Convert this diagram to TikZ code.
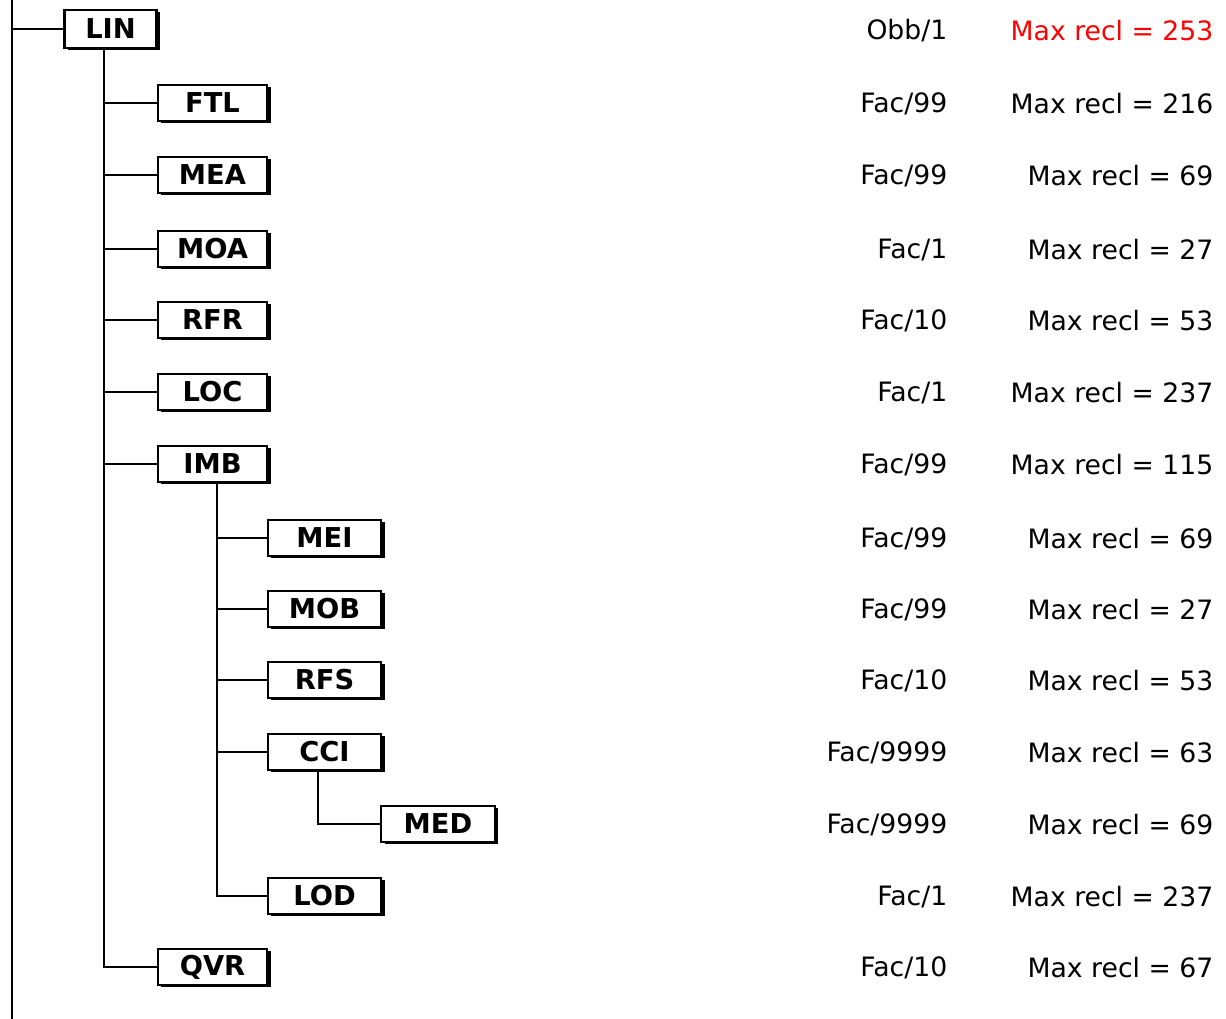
\documentclass[tikz,border=0pt]{standalone}
\usepackage{fontspec}
\setmainfont{DejaVu Sans}
\usetikzlibrary{shadows}

\tikzset{
  recbox/.style={draw, fill=white, line width=1.6pt, font=\fontsize{20.5}{23}\selectfont\bfseries,
    inner sep=0pt, drop shadow={shadow xshift=2.6pt, shadow yshift=-1.6pt, fill=black, opacity=1}},
  lev0/.style={recbox, minimum width=69pt, minimum height=28pt},
  lev1/.style={recbox, minimum width=82pt, minimum height=27pt},
  lev2/.style={recbox, minimum width=85pt, minimum height=27pt},
  info/.style={anchor=east, font=\fontsize{20}{23}\selectfont},
  link/.style={line width=1.3pt}
}

\begin{document}
\begin{tikzpicture}[x=0.75pt, y=-0.75pt]
\useasboundingbox (0,0) rectangle (1226,1019);

\coordinate (top) at (12,0);
\coordinate (bottom) at (12,1019);
\coordinate (t1) at (104,0);
\coordinate (t2) at (217,0);
\coordinate (t3) at (318,0);

\node[lev0] (LIN) at (110.5,29) {LIN};

\node[lev1] (FTL) at (212.5,103) {FTL};
\node[lev1] (MEA) at (212.5,175) {MEA};
\node[lev1] (MOA) at (212.5,249) {MOA};
\node[lev1] (RFR) at (212.5,320) {RFR};
\node[lev1] (LOC) at (212.5,392) {LOC};
\node[lev1] (IMB) at (212.5,464) {IMB};
\node[lev2] (MEI) at (324.5,538) {MEI};
\node[lev2] (MOB) at (324.5,609) {MOB};
\node[lev2] (RFS) at (324.5,680) {RFS};
\node[lev2] (CCI) at (324.5,752) {CCI};
\node[lev2] (MED) at (438,824) {MED};
\node[lev2] (LOD) at (324.5,896) {LOD};
\node[lev1] (QVR) at (212.5,967) {QVR};

\draw[link] (top) -- (bottom);
\draw[link] (top |- LIN) -- (LIN.west);

\draw[link] (t1 |- LIN.south) |- (QVR.west);
\draw[link] (t1 |- FTL) -- (FTL.west);
\draw[link] (t1 |- MEA) -- (MEA.west);
\draw[link] (t1 |- MOA) -- (MOA.west);
\draw[link] (t1 |- RFR) -- (RFR.west);
\draw[link] (t1 |- LOC) -- (LOC.west);
\draw[link] (t1 |- IMB) -- (IMB.west);

\draw[link] (t2 |- IMB.south) |- (LOD.west);
\draw[link] (t2 |- MEI) -- (MEI.west);
\draw[link] (t2 |- MOB) -- (MOB.west);
\draw[link] (t2 |- RFS) -- (RFS.west);
\draw[link] (t2 |- CCI) -- (CCI.west);

\draw[link] (t3 |- CCI.south) |- (MED.west);

\node[info] (oLIN) at (952,31) {Obb/1};
\node[info, red] (mLIN) at (1218,31) {Max recl = 253};
\node[info] (oFTL) at (952,104) {Fac/99};
\node[info] (mFTL) at (1218,104) {Max recl = 216};
\node[info] (oMEA) at (952,176) {Fac/99};
\node[info] (mMEA) at (1218,176) {Max recl = 69};
\node[info] (oMOA) at (952,250) {Fac/1};
\node[info] (mMOA) at (1218,250) {Max recl = 27};
\node[info] (oRFR) at (952,321) {Fac/10};
\node[info] (mRFR) at (1218,321) {Max recl = 53};
\node[info] (oLOC) at (952,393) {Fac/1};
\node[info] (mLOC) at (1218,393) {Max recl = 237};
\node[info] (oIMB) at (952,465) {Fac/99};
\node[info] (mIMB) at (1218,465) {Max recl = 115};
\node[info] (oMEI) at (952,539) {Fac/99};
\node[info] (mMEI) at (1218,539) {Max recl = 69};
\node[info] (oMOB) at (952,610) {Fac/99};
\node[info] (mMOB) at (1218,610) {Max recl = 27};
\node[info] (oRFS) at (952,681) {Fac/10};
\node[info] (mRFS) at (1218,681) {Max recl = 53};
\node[info] (oCCI) at (952,753) {Fac/9999};
\node[info] (mCCI) at (1218,753) {Max recl = 63};
\node[info] (oMED) at (952,825) {Fac/9999};
\node[info] (mMED) at (1218,825) {Max recl = 69};
\node[info] (oLOD) at (952,897) {Fac/1};
\node[info] (mLOD) at (1218,897) {Max recl = 237};
\node[info] (oQVR) at (952,968) {Fac/10};
\node[info] (mQVR) at (1218,968) {Max recl = 67};

\end{tikzpicture}
\end{document}
